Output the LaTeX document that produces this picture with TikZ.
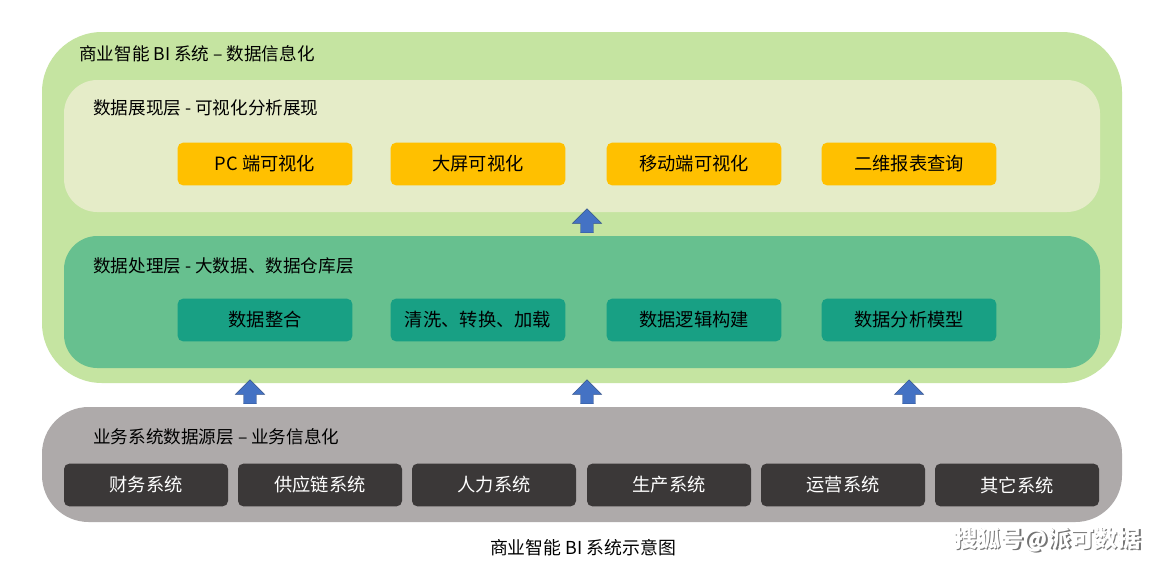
\documentclass[tikz,border=0pt]{standalone}
\usepackage{fontspec}
\setmainfont{Noto Sans CJK SC}
\usetikzlibrary{shapes.arrows}
\definecolor{outerg}{HTML}{C5E4A1}
\definecolor{topl}{HTML}{E5ECC8}
\definecolor{midl}{HTML}{67C08F}
\definecolor{yel}{HTML}{FFC000}
\definecolor{tealc}{HTML}{18A084}
\definecolor{grayl}{HTML}{AEAAAA}
\definecolor{dark}{HTML}{3B3838}
\definecolor{arr}{HTML}{4472C4}
\tikzset{
 ybox/.style={fill=yel,rounded corners=4pt,minimum width=131pt,minimum height=32pt,font=\fontsize{13.7}{16}\selectfont,inner sep=0},
 tbox/.style={ybox,fill=tealc},
 dbox/.style={ybox,fill=dark,text=white,minimum width=123pt},
 ttl/.style={anchor=west,font=\fontsize{13.2}{16}\selectfont,inner sep=0},
 up/.style={single arrow,shape border rotate=90,fill=arr,draw=arr!70!black,line width=0.3pt,minimum height=18pt,minimum width=22pt,single arrow head extend=4pt,inner sep=3pt}
}
\begin{document}
\begin{tikzpicture}[x=0.75pt,y=-0.75pt]
\useasboundingbox (0,0) rectangle (1168,565);
\fill[white] (0,0) rectangle (1168,565);
\fill[outerg,rounded corners=45pt] (42,32) rectangle (1122,383);
\node[ttl] (t0) at (79,54) {商业智能 BI 系统 – 数据信息化};
\fill[topl,rounded corners=25pt] (64,80) rectangle (1100,212);
\node[ttl] (t1) at (93,108) {数据展现层 - 可视化分析展现};
\node[ybox] (y1) at (265,164) {PC 端可视化};
\node[ybox] (y2) at (478,164) {大屏可视化};
\node[ybox] (y3) at (694,164) {移动端可视化};
\node[ybox] (y4) at (909,164) {二维报表查询};
\fill[midl,rounded corners=25pt] (64,236) rectangle (1100,368);
\node[ttl] (t2) at (93,266) {数据处理层 - 大数据、数据仓库层};
\node[tbox] (g1) at (265,320) {数据整合};
\node[tbox] (g2) at (478,320) {清洗、转换、加载};
\node[tbox] (g3) at (694,320) {数据逻辑构建};
\node[tbox] (g4) at (909,320) {数据分析模型};
\node[up] (a0) at (587,224) {};
\node[up] (a1) at (250,395) {};
\node[up] (a2) at (587,395) {};
\node[up] (a3) at (909,395) {};
\fill[grayl,rounded corners=35pt] (42,407) rectangle (1122,522);
\node[ttl] (t3) at (93,437) {业务系统数据源层 – 业务信息化};
\node[dbox] (d1) at (146,485) {财务系统};
\node[dbox] (d2) at (320,485) {供应链系统};
\node[dbox] (d3) at (494,485) {人力系统};
\node[dbox] (d4) at (669,485) {生产系统};
\node[dbox] (d5) at (843,485) {运营系统};
\node[dbox] (d6) at (1017,485) {其它系统};
\node[font=\fontsize{13.4}{16}\selectfont] (cap) at (583,548) {商业智能 BI 系统示意图};
\node[font=\bfseries\fontsize{17.4}{20}\selectfont,text=black!55] (wm0) at (1049,541) {搜狐号@派可数据};
\node[font=\bfseries\fontsize{17.4}{20}\selectfont,text=white] (wm) at (1047.5,539.5) {搜狐号@派可数据};
\end{tikzpicture}
\end{document}
